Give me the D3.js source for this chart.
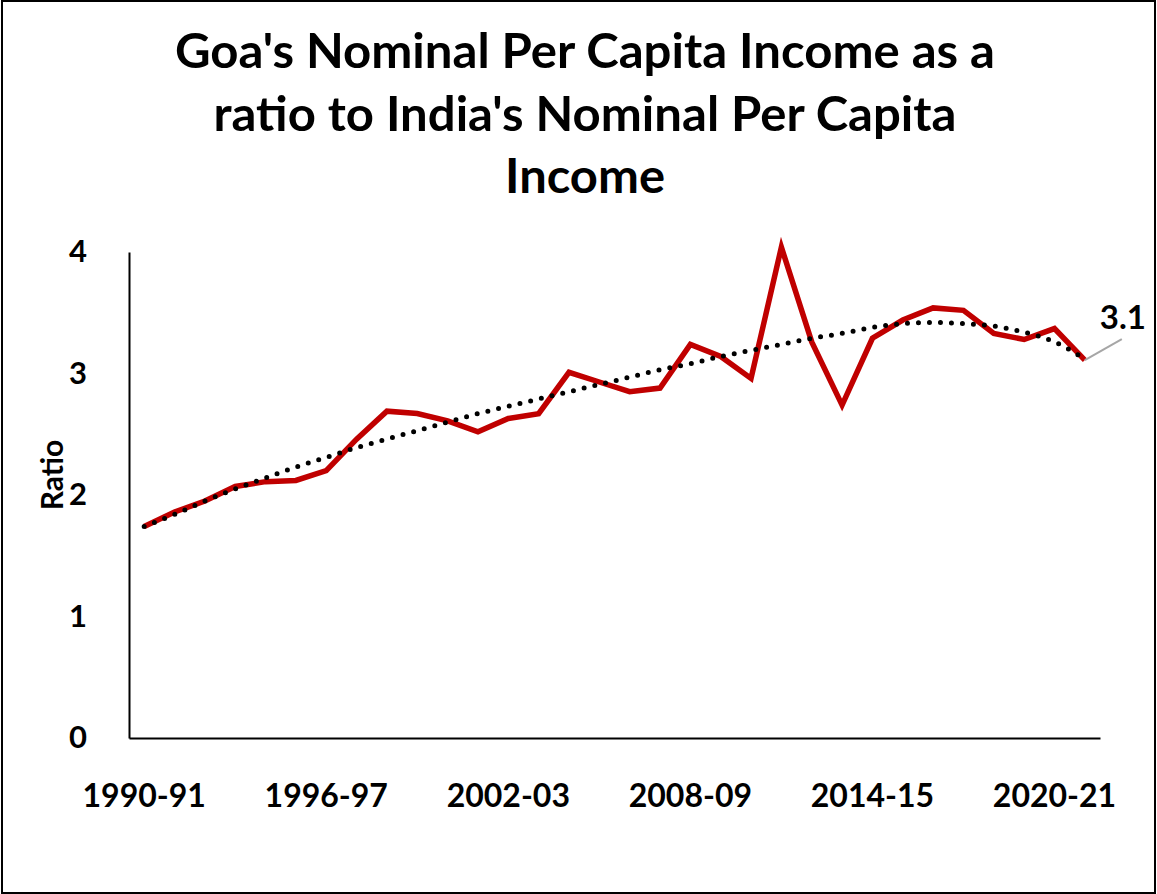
<html>
<head>
<style>
  body { margin: 0; background: #ffffff; font-family: Lato, "Open Sans", sans-serif; }
  svg { display: block; }
</style>
<script src="https://cdn.jsdelivr.net/npm/d3@7"></script>
</head>
<body>
<svg id="Grafico"></svg>
<script>
  // categorias (años fiscales)
  let anios = [];
  for (let a = 1990; a <= 2021; a++) {
    anios.push(a + "-" + String((a + 1) % 100).padStart(2, "0"));
  }

  // ratio Goa / India
  let ratio = [1.74, 1.86, 1.95, 2.07, 2.11, 2.12, 2.20, 2.46, 2.69, 2.67,
               2.61, 2.52, 2.63, 2.67, 3.01, 2.93, 2.85, 2.88, 3.24, 3.14,
               2.96, 4.04, 3.26, 2.74, 3.29, 3.44, 3.54, 3.52, 3.33, 3.28,
               3.37, 3.11];

  // linea de tendencia (polinomica)
  let tendencia = [1.74, 1.84, 1.95, 2.05, 2.14, 2.23, 2.31, 2.39, 2.46, 2.53,
                   2.60, 2.67, 2.73, 2.79, 2.85, 2.91, 2.97, 3.03, 3.08, 3.14,
                   3.19, 3.24, 3.29, 3.33, 3.38, 3.41, 3.42, 3.41, 3.39, 3.34,
                   3.26, 3.12];

  let ticksY = [0, 1, 2, 3, 4];
  let etiquetasX = ["1990-91", "1996-97", "2002-03", "2008-09", "2014-15", "2020-21"];
  let tituloLineas = ["Goa's Nominal Per Capita Income as a",
                      "ratio to India's Nominal Per Capita",
                      "Income"];

  let ancho = 1157, alto = 894;
  let svg = d3.select("#Grafico").attr("width", ancho).attr("height", alto);

  // marco exterior
  svg.append("rect")
    .attr("x", 2).attr("y", 1)
    .attr("width", 1153).attr("height", 892)
    .attr("fill", "none").attr("stroke", "#000").attr("stroke-width", 2);

  // titulo
  let anchosTitulo = [820, 743, 160];
  let baseTitulo = [68, 131, 193];
  tituloLineas.forEach((t, i) => {
    svg.append("text")
      .attr("x", 585).attr("y", baseTitulo[i])
      .attr("text-anchor", "middle")
      .attr("font-size", 47).attr("font-weight", "bold")
      .attr("textLength", anchosTitulo[i])
      .attr("lengthAdjust", "spacingAndGlyphs")
      .text(t);
  });

  let escalaX = d3.scaleBand().domain(anios).range([129, 1100]);
  let escalaY = d3.scaleLinear().domain([0, 4]).range([738, 252]);
  let cx = d => escalaX(d) + escalaX.bandwidth() / 2;

  // ejes
  let ejeY = svg.append("g")
    .attr("transform", "translate(129,0)")
    .call(d3.axisLeft(escalaY).tickValues(ticksY).tickSize(0).tickPadding(42).tickFormat(d3.format("d")));
  ejeY.select(".domain").attr("stroke", "#000").attr("stroke-width", 2);
  ejeY.selectAll("text")
    .attr("font-family", "Lato, sans-serif").attr("font-size", 31)
    .attr("font-weight", "bold").attr("fill", "#000");

  let ejeX = svg.append("g")
    .attr("transform", "translate(0,738)")
    .call(d3.axisBottom(escalaX).tickValues(etiquetasX).tickSize(0).tickPadding(46));
  ejeX.select(".domain").attr("stroke", "#000").attr("stroke-width", 2);
  ejeX.selectAll("text")
    .attr("font-family", "Lato, sans-serif").attr("font-size", 32)
    .attr("font-weight", "bold").attr("fill", "#000");

  // titulo eje Y
  svg.append("text")
    .attr("transform", "translate(63,475) rotate(-90)")
    .attr("text-anchor", "middle")
    .attr("font-size", 30).attr("font-weight", "bold")
    .text("Ratio");

  // serie
  let linea = d3.line().x((d, i) => cx(anios[i])).y(d => escalaY(d));

  svg.append("path")
    .datum(ratio)
    .attr("d", linea)
    .attr("fill", "none")
    .attr("stroke", "#c00000")
    .attr("stroke-width", 5.5)
    .attr("stroke-linejoin", "miter");

  svg.append("path")
    .datum(tendencia)
    .attr("d", linea.curve(d3.curveMonotoneX))
    .attr("fill", "none")
    .attr("stroke", "#000")
    .attr("stroke-width", 5)
    .attr("stroke-linecap", "round")
    .attr("stroke-dasharray", "0 11");

  // etiqueta del ultimo valor
  let ultimo = ratio.length - 1;
  let px = cx(anios[ultimo]), py = escalaY(ratio[ultimo]);
  svg.append("line")
    .attr("x1", px).attr("y1", py)
    .attr("x2", px + 37).attr("y2", py - 21)
    .attr("stroke", "#a6a6a6").attr("stroke-width", 2);
  svg.append("text")
    .attr("x", px + 38).attr("y", py - 31)
    .attr("text-anchor", "middle")
    .attr("font-size", 33).attr("font-weight", "bold")
    .text(d3.format(".1f")(ratio[ultimo]));
</script>
</body>
</html>
